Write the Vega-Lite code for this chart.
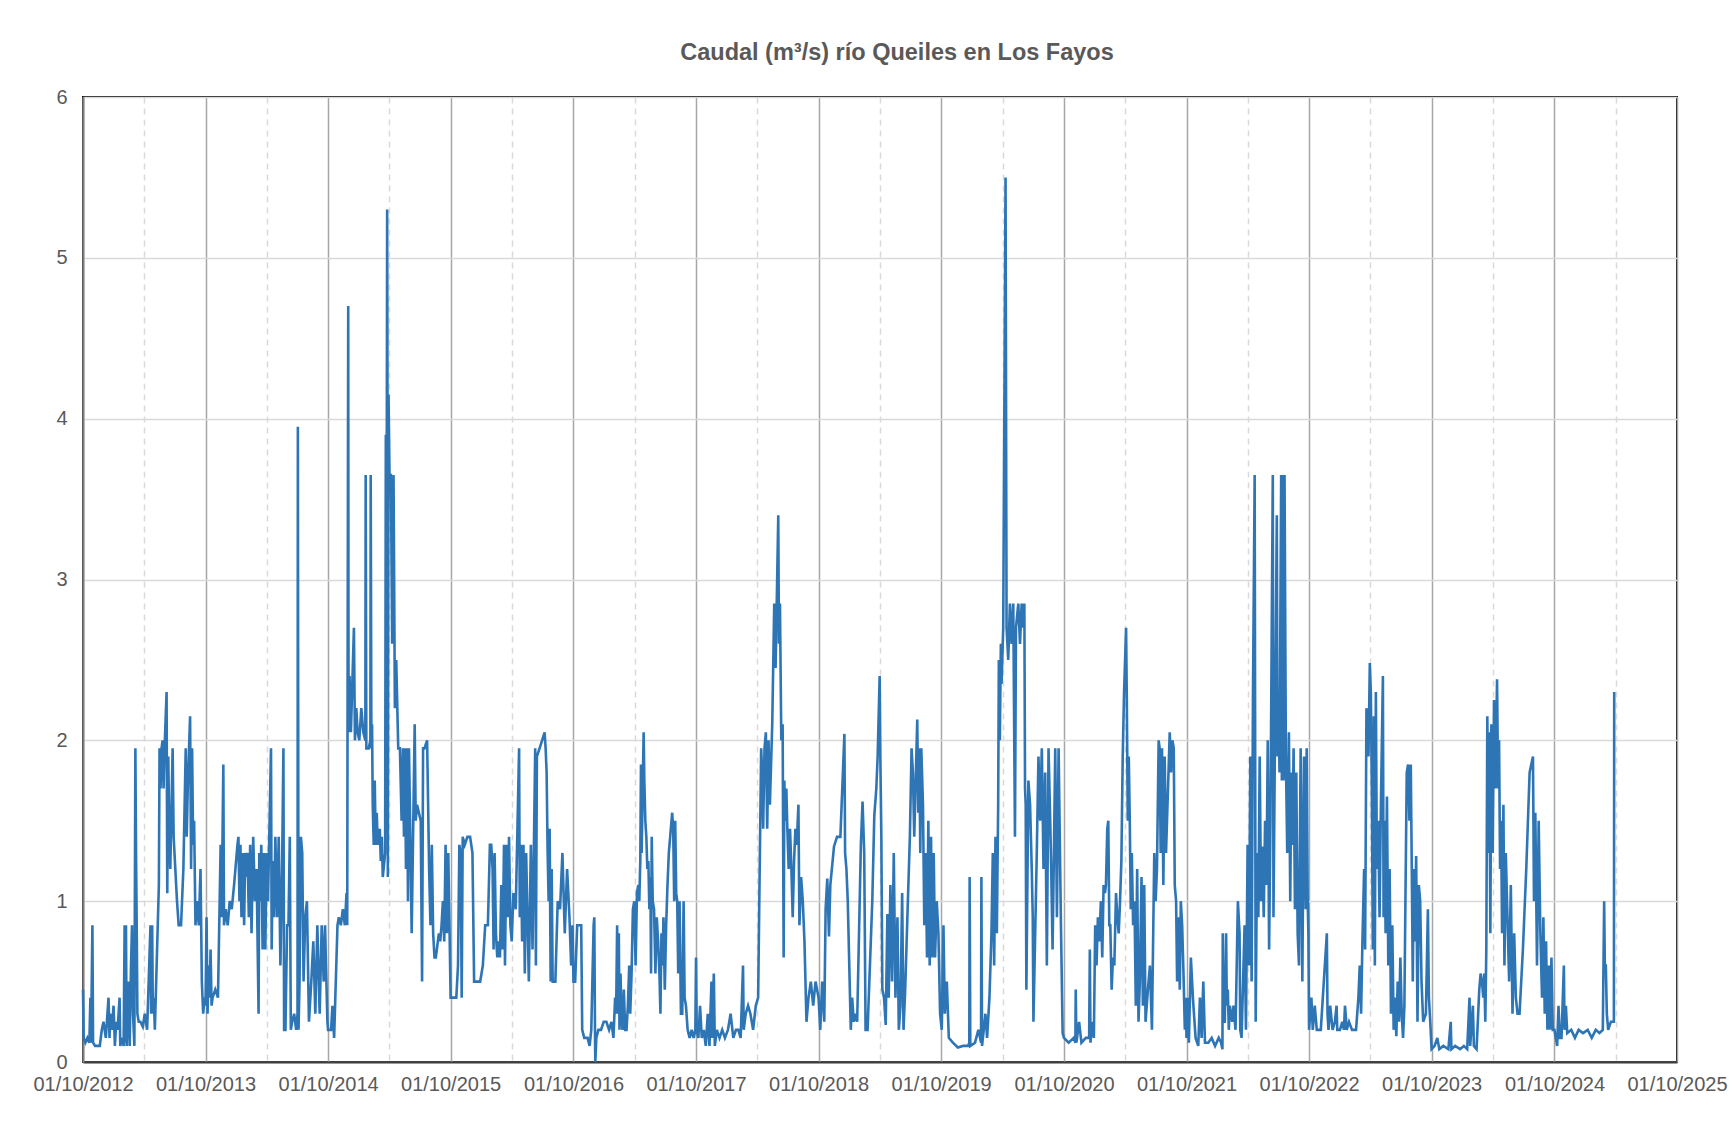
{
"$schema": "https://vega.github.io/schema/vega-lite/v6.json",
"width": 1594, "height": 965,
"autosize": {"type": "none"},
"padding": {"left": 83, "top": 97, "right": 56, "bottom": 63},
"background": "white",
"title": {"text": "Caudal (m³/s) río Queiles en Los Fayos", "font": "Liberation Sans", "fontSize": 23.5, "fontWeight": "bold", "color": "#595959", "anchor": "middle", "frame": "group", "offset": 23, "dx": 17},
"config": {"view": {"stroke": "#111111", "strokeWidth": 2}, "font": "Liberation Sans"},
"data": {"format": {"parse": {"d": "utc:'%Y-%m-%d'"}}, "values": [
{"d":"2012-10-01","v":0.45},{"d":"2012-10-03","v":0.15},{"d":"2012-10-08","v":0.12},{"d":"2012-10-14","v":0.15},{"d":"2012-10-20","v":0.12},{"d":"2012-10-23","v":0.4},{"d":"2012-10-25","v":0.12},{"d":"2012-10-29","v":0.85},{"d":"2012-10-31","v":0.12},{"d":"2012-11-06","v":0.1},{"d":"2012-11-14","v":0.1},{"d":"2012-11-20","v":0.1},{"d":"2012-11-26","v":0.2},{"d":"2012-12-01","v":0.25},{"d":"2012-12-08","v":0.15},{"d":"2012-12-16","v":0.4},{"d":"2012-12-19","v":0.15},{"d":"2012-12-21","v":0.3},{"d":"2012-12-26","v":0.2},{"d":"2012-12-31","v":0.35},
{"d":"2013-01-04","v":0.1},{"d":"2013-01-08","v":0.25},{"d":"2013-01-12","v":0.2},{"d":"2013-01-18","v":0.4},{"d":"2013-01-20","v":0.1},{"d":"2013-01-25","v":0.15},{"d":"2013-01-30","v":0.1},{"d":"2013-02-02","v":0.85},{"d":"2013-02-04","v":0.12},{"d":"2013-02-06","v":0.85},{"d":"2013-02-08","v":0.1},{"d":"2013-02-14","v":0.5},{"d":"2013-02-17","v":0.1},{"d":"2013-02-21","v":0.6},{"d":"2013-02-24","v":0.85},{"d":"2013-02-27","v":0.3},{"d":"2013-03-03","v":0.1},{"d":"2013-03-06","v":1.95},{"d":"2013-03-08","v":1.3},{"d":"2013-03-10","v":0.85},{"d":"2013-03-12","v":0.3},{"d":"2013-03-16","v":0.25},{"d":"2013-03-21","v":0.25},{"d":"2013-03-28","v":0.22},{"d":"2013-04-03","v":0.3},{"d":"2013-04-10","v":0.2},{"d":"2013-04-20","v":0.85},{"d":"2013-04-22","v":0.3},{"d":"2013-04-25","v":0.85},{"d":"2013-04-27","v":0.3},{"d":"2013-04-30","v":0.4},{"d":"2013-05-03","v":0.2},{"d":"2013-05-15","v":1.1},{"d":"2013-05-17","v":1.95},{"d":"2013-05-20","v":1.7},{"d":"2013-05-23","v":1.95},{"d":"2013-05-26","v":2.0},{"d":"2013-05-29","v":1.7},{"d":"2013-06-01","v":1.95},{"d":"2013-06-07","v":2.3},{"d":"2013-06-09","v":1.05},{"d":"2013-06-12","v":1.9},{"d":"2013-06-15","v":1.4},{"d":"2013-06-18","v":1.2},{"d":"2013-06-25","v":1.95},{"d":"2013-06-28","v":1.4},{"d":"2013-07-03","v":1.2},{"d":"2013-07-08","v":1.0},{"d":"2013-07-13","v":0.85},{"d":"2013-07-20","v":0.85},{"d":"2013-07-27","v":1.2},{"d":"2013-08-03","v":1.95},{"d":"2013-08-06","v":1.4},{"d":"2013-08-09","v":1.7},{"d":"2013-08-16","v":2.15},{"d":"2013-08-19","v":1.2},{"d":"2013-08-22","v":1.95},{"d":"2013-08-25","v":1.35},{"d":"2013-08-28","v":1.5},{"d":"2013-09-01","v":0.85},{"d":"2013-09-06","v":1.0},{"d":"2013-09-11","v":0.85},{"d":"2013-09-16","v":1.2},{"d":"2013-09-20","v":0.5},{"d":"2013-09-24","v":0.3},{"d":"2013-09-28","v":0.4},
{"d":"2013-10-01","v":0.35},{"d":"2013-10-04","v":0.9},{"d":"2013-10-07","v":0.3},{"d":"2013-10-10","v":0.6},{"d":"2013-10-13","v":0.4},{"d":"2013-10-16","v":0.7},{"d":"2013-10-19","v":0.35},{"d":"2013-10-22","v":0.4},{"d":"2013-10-30","v":0.45},{"d":"2013-11-07","v":0.4},{"d":"2013-11-15","v":1.35},{"d":"2013-11-18","v":0.9},{"d":"2013-11-23","v":1.85},{"d":"2013-11-25","v":0.85},{"d":"2013-11-30","v":0.95},{"d":"2013-12-06","v":0.85},{"d":"2013-12-12","v":1.0},{"d":"2013-12-18","v":0.95},{"d":"2013-12-25","v":1.1},
{"d":"2014-01-04","v":1.35},{"d":"2014-01-07","v":1.4},{"d":"2014-01-10","v":1.0},{"d":"2014-01-13","v":1.35},{"d":"2014-01-16","v":0.9},{"d":"2014-01-20","v":1.3},{"d":"2014-01-24","v":0.85},{"d":"2014-01-27","v":1.3},{"d":"2014-01-30","v":1.15},{"d":"2014-02-03","v":1.3},{"d":"2014-02-07","v":0.9},{"d":"2014-02-11","v":1.35},{"d":"2014-02-15","v":0.8},{"d":"2014-02-20","v":1.4},{"d":"2014-02-25","v":1.0},{"d":"2014-03-02","v":1.2},{"d":"2014-03-08","v":0.3},{"d":"2014-03-10","v":1.3},{"d":"2014-03-13","v":1.0},{"d":"2014-03-16","v":1.35},{"d":"2014-03-20","v":0.7},{"d":"2014-03-24","v":1.3},{"d":"2014-03-28","v":0.7},{"d":"2014-04-01","v":1.3},{"d":"2014-04-05","v":1.0},{"d":"2014-04-14","v":1.95},{"d":"2014-04-16","v":0.7},{"d":"2014-04-19","v":1.25},{"d":"2014-04-23","v":0.9},{"d":"2014-04-27","v":1.4},{"d":"2014-05-02","v":0.9},{"d":"2014-05-07","v":1.4},{"d":"2014-05-12","v":0.6},{"d":"2014-05-17","v":1.2},{"d":"2014-05-21","v":1.95},{"d":"2014-05-23","v":0.2},{"d":"2014-05-27","v":0.2},{"d":"2014-06-01","v":0.85},{"d":"2014-06-05","v":0.85},{"d":"2014-06-09","v":1.4},{"d":"2014-06-12","v":0.2},{"d":"2014-06-16","v":0.25},{"d":"2014-06-22","v":0.3},{"d":"2014-06-28","v":0.2},{"d":"2014-07-02","v":0.3},{"d":"2014-07-03","v":3.95},{"d":"2014-07-05","v":0.2},{"d":"2014-07-08","v":0.5},{"d":"2014-07-12","v":1.4},{"d":"2014-07-16","v":1.3},{"d":"2014-07-20","v":0.5},{"d":"2014-07-25","v":0.9},{"d":"2014-07-30","v":1.0},{"d":"2014-08-05","v":0.25},{"d":"2014-08-12","v":0.5},{"d":"2014-08-18","v":0.75},{"d":"2014-08-24","v":0.3},{"d":"2014-08-30","v":0.85},{"d":"2014-09-06","v":0.3},{"d":"2014-09-12","v":0.85},{"d":"2014-09-18","v":0.5},{"d":"2014-09-22","v":0.85},{"d":"2014-09-26","v":0.5},{"d":"2014-09-29","v":0.25},
{"d":"2014-10-01","v":0.2},{"d":"2014-10-10","v":0.2},{"d":"2014-10-14","v":0.35},{"d":"2014-10-19","v":0.15},{"d":"2014-10-29","v":0.85},{"d":"2014-11-02","v":0.9},{"d":"2014-11-08","v":0.85},{"d":"2014-11-14","v":0.95},{"d":"2014-11-20","v":0.85},{"d":"2014-11-25","v":1.05},{"d":"2014-11-27","v":0.85},{"d":"2014-11-30","v":4.7},{"d":"2014-12-01","v":2.05},{"d":"2014-12-04","v":2.4},{"d":"2014-12-08","v":2.05},{"d":"2014-12-17","v":2.7},{"d":"2014-12-20","v":2.0},{"d":"2014-12-24","v":2.2},{"d":"2014-12-28","v":2.05},
{"d":"2015-01-02","v":2.0},{"d":"2015-01-08","v":2.2},{"d":"2015-01-14","v":2.05},{"d":"2015-01-20","v":2.0},{"d":"2015-01-21","v":3.65},{"d":"2015-01-23","v":1.95},{"d":"2015-01-30","v":1.95},{"d":"2015-02-04","v":2.0},{"d":"2015-02-05","v":3.65},{"d":"2015-02-07","v":1.95},{"d":"2015-02-09","v":2.1},{"d":"2015-02-11","v":1.6},{"d":"2015-02-14","v":1.35},{"d":"2015-02-17","v":1.75},{"d":"2015-02-20","v":1.35},{"d":"2015-02-23","v":1.55},{"d":"2015-02-26","v":1.35},{"d":"2015-03-01","v":1.4},{"d":"2015-03-04","v":1.45},{"d":"2015-03-07","v":1.25},{"d":"2015-03-10","v":1.4},{"d":"2015-03-13","v":1.15},{"d":"2015-03-20","v":1.3},{"d":"2015-03-22","v":3.9},{"d":"2015-03-24","v":2.7},{"d":"2015-03-26","v":5.3},{"d":"2015-03-27","v":4.15},{"d":"2015-03-28","v":1.15},{"d":"2015-03-30","v":4.15},{"d":"2015-04-02","v":3.65},{"d":"2015-04-06","v":3.65},{"d":"2015-04-10","v":2.6},{"d":"2015-04-14","v":3.65},{"d":"2015-04-18","v":2.2},{"d":"2015-04-22","v":2.5},{"d":"2015-04-28","v":1.95},{"d":"2015-05-03","v":1.95},{"d":"2015-05-08","v":1.5},{"d":"2015-05-12","v":1.95},{"d":"2015-05-15","v":1.4},{"d":"2015-05-18","v":1.95},{"d":"2015-05-21","v":1.2},{"d":"2015-05-24","v":1.95},{"d":"2015-05-27","v":1.0},{"d":"2015-05-30","v":1.95},{"d":"2015-06-03","v":1.4},{"d":"2015-06-07","v":0.8},{"d":"2015-06-16","v":2.1},{"d":"2015-06-19","v":1.5},{"d":"2015-06-23","v":1.6},{"d":"2015-07-04","v":1.5},{"d":"2015-07-08","v":0.5},{"d":"2015-07-11","v":1.95},{"d":"2015-07-15","v":1.95},{"d":"2015-07-23","v":2.0},{"d":"2015-07-26","v":1.6},{"d":"2015-07-29","v":1.2},{"d":"2015-08-02","v":0.85},{"d":"2015-08-06","v":1.35},{"d":"2015-08-10","v":0.8},{"d":"2015-08-14","v":0.65},{"d":"2015-08-18","v":0.65},{"d":"2015-08-27","v":0.8},{"d":"2015-08-31","v":0.75},{"d":"2015-09-04","v":0.85},{"d":"2015-09-08","v":1.0},{"d":"2015-09-12","v":0.75},{"d":"2015-09-16","v":1.35},{"d":"2015-09-20","v":0.8},{"d":"2015-09-24","v":1.3},{"d":"2015-09-28","v":0.8},
{"d":"2015-10-01","v":0.4},{"d":"2015-10-10","v":0.4},{"d":"2015-10-18","v":0.4},{"d":"2015-10-23","v":0.6},{"d":"2015-10-27","v":1.35},{"d":"2015-10-31","v":1.3},{"d":"2015-11-03","v":0.4},{"d":"2015-11-06","v":1.4},{"d":"2015-11-12","v":1.35},{"d":"2015-11-20","v":1.4},{"d":"2015-11-28","v":1.4},{"d":"2015-12-05","v":1.3},{"d":"2015-12-10","v":0.5},{"d":"2015-12-18","v":0.5},{"d":"2015-12-28","v":0.5},
{"d":"2016-01-05","v":0.6},{"d":"2016-01-12","v":0.85},{"d":"2016-01-20","v":0.85},{"d":"2016-01-26","v":1.35},{"d":"2016-01-30","v":1.35},{"d":"2016-02-03","v":1.2},{"d":"2016-02-06","v":0.7},{"d":"2016-02-09","v":1.3},{"d":"2016-02-13","v":0.8},{"d":"2016-02-17","v":0.65},{"d":"2016-02-21","v":0.75},{"d":"2016-02-25","v":0.65},{"d":"2016-02-29","v":1.1},{"d":"2016-03-04","v":0.7},{"d":"2016-03-08","v":1.35},{"d":"2016-03-11","v":0.6},{"d":"2016-03-15","v":1.35},{"d":"2016-03-19","v":0.9},{"d":"2016-03-23","v":1.4},{"d":"2016-03-27","v":0.85},{"d":"2016-03-31","v":0.75},{"d":"2016-04-05","v":1.05},{"d":"2016-04-12","v":0.95},{"d":"2016-04-22","v":1.95},{"d":"2016-04-24","v":0.9},{"d":"2016-04-27","v":1.35},{"d":"2016-05-01","v":0.75},{"d":"2016-05-05","v":1.35},{"d":"2016-05-09","v":0.55},{"d":"2016-05-13","v":1.3},{"d":"2016-05-17","v":0.9},{"d":"2016-05-21","v":0.5},{"d":"2016-05-27","v":1.35},{"d":"2016-06-01","v":0.7},{"d":"2016-06-09","v":1.95},{"d":"2016-06-11","v":0.6},{"d":"2016-06-14","v":1.9},{"d":"2016-06-22","v":1.95},{"d":"2016-07-07","v":2.05},{"d":"2016-07-10","v":1.95},{"d":"2016-07-13","v":1.8},{"d":"2016-07-16","v":1.3},{"d":"2016-07-19","v":1.0},{"d":"2016-07-22","v":1.45},{"d":"2016-07-25","v":0.5},{"d":"2016-07-28","v":1.2},{"d":"2016-07-31","v":0.5},{"d":"2016-08-08","v":0.5},{"d":"2016-08-15","v":1.0},{"d":"2016-08-22","v":0.95},{"d":"2016-08-29","v":1.3},{"d":"2016-09-05","v":0.8},{"d":"2016-09-12","v":1.2},{"d":"2016-09-19","v":0.9},{"d":"2016-09-24","v":0.6},{"d":"2016-09-28","v":0.85},
{"d":"2016-10-01","v":0.5},{"d":"2016-10-06","v":0.5},{"d":"2016-10-12","v":0.85},{"d":"2016-10-18","v":0.85},{"d":"2016-10-24","v":0.85},{"d":"2016-10-27","v":0.2},{"d":"2016-11-02","v":0.15},{"d":"2016-11-12","v":0.15},{"d":"2016-11-18","v":0.1},{"d":"2016-11-23","v":0.2},{"d":"2016-11-30","v":0.85},{"d":"2016-12-02","v":0.9},{"d":"2016-12-04","v":0.2},{"d":"2016-12-05","v":0.0},{"d":"2016-12-08","v":0.15},{"d":"2016-12-14","v":0.2},{"d":"2016-12-22","v":0.2},{"d":"2016-12-30","v":0.25},
{"d":"2017-01-07","v":0.25},{"d":"2017-01-15","v":0.2},{"d":"2017-01-22","v":0.25},{"d":"2017-01-28","v":0.15},{"d":"2017-02-02","v":0.4},{"d":"2017-02-05","v":0.3},{"d":"2017-02-08","v":0.85},{"d":"2017-02-10","v":0.3},{"d":"2017-02-13","v":0.8},{"d":"2017-02-15","v":0.2},{"d":"2017-02-18","v":0.55},{"d":"2017-02-21","v":0.3},{"d":"2017-02-24","v":0.2},{"d":"2017-02-28","v":0.45},{"d":"2017-03-04","v":0.2},{"d":"2017-03-08","v":0.2},{"d":"2017-03-12","v":0.35},{"d":"2017-03-16","v":0.6},{"d":"2017-03-19","v":0.3},{"d":"2017-03-23","v":0.55},{"d":"2017-03-27","v":0.95},{"d":"2017-03-31","v":1.0},{"d":"2017-04-04","v":0.6},{"d":"2017-04-08","v":1.05},{"d":"2017-04-12","v":1.1},{"d":"2017-04-15","v":1.0},{"d":"2017-04-18","v":1.25},{"d":"2017-04-20","v":1.85},{"d":"2017-04-22","v":1.3},{"d":"2017-04-28","v":2.05},{"d":"2017-04-30","v":1.75},{"d":"2017-05-03","v":1.5},{"d":"2017-05-06","v":1.4},{"d":"2017-05-09","v":1.2},{"d":"2017-05-12","v":1.25},{"d":"2017-05-15","v":0.95},{"d":"2017-05-18","v":1.15},{"d":"2017-05-20","v":0.55},{"d":"2017-05-22","v":1.4},{"d":"2017-05-25","v":1.0},{"d":"2017-05-29","v":0.95},{"d":"2017-06-02","v":0.55},{"d":"2017-06-06","v":0.9},{"d":"2017-06-10","v":0.75},{"d":"2017-06-14","v":0.55},{"d":"2017-06-17","v":0.3},{"d":"2017-06-20","v":0.8},{"d":"2017-06-23","v":0.6},{"d":"2017-06-26","v":0.9},{"d":"2017-06-30","v":0.45},{"d":"2017-07-04","v":0.85},{"d":"2017-07-08","v":1.1},{"d":"2017-07-12","v":1.3},{"d":"2017-07-22","v":1.55},{"d":"2017-07-25","v":1.45},{"d":"2017-07-28","v":1.0},{"d":"2017-07-31","v":1.5},{"d":"2017-08-03","v":1.05},{"d":"2017-08-06","v":1.0},{"d":"2017-08-09","v":0.55},{"d":"2017-08-13","v":1.0},{"d":"2017-08-17","v":0.3},{"d":"2017-08-21","v":0.3},{"d":"2017-08-25","v":1.0},{"d":"2017-08-28","v":0.4},{"d":"2017-09-01","v":0.35},{"d":"2017-09-06","v":0.2},{"d":"2017-09-12","v":0.15},{"d":"2017-09-18","v":0.2},{"d":"2017-09-24","v":0.15},{"d":"2017-09-29","v":0.2},
{"d":"2017-10-01","v":0.65},{"d":"2017-10-03","v":0.2},{"d":"2017-10-08","v":0.15},{"d":"2017-10-13","v":0.35},{"d":"2017-10-18","v":0.15},{"d":"2017-10-24","v":0.2},{"d":"2017-10-30","v":0.1},{"d":"2017-11-05","v":0.3},{"d":"2017-11-10","v":0.1},{"d":"2017-11-16","v":0.5},{"d":"2017-11-18","v":0.15},{"d":"2017-11-23","v":0.55},{"d":"2017-11-26","v":0.1},{"d":"2017-12-02","v":0.2},{"d":"2017-12-10","v":0.15},{"d":"2017-12-18","v":0.2},{"d":"2017-12-26","v":0.15},
{"d":"2018-01-04","v":0.2},{"d":"2018-01-12","v":0.3},{"d":"2018-01-20","v":0.15},{"d":"2018-01-28","v":0.2},{"d":"2018-02-04","v":0.2},{"d":"2018-02-11","v":0.15},{"d":"2018-02-18","v":0.6},{"d":"2018-02-20","v":0.2},{"d":"2018-02-26","v":0.3},{"d":"2018-03-05","v":0.35},{"d":"2018-03-12","v":0.3},{"d":"2018-03-20","v":0.2},{"d":"2018-03-28","v":0.35},{"d":"2018-04-04","v":0.4},{"d":"2018-04-13","v":1.95},{"d":"2018-04-16","v":1.8},{"d":"2018-04-19","v":1.45},{"d":"2018-04-23","v":1.95},{"d":"2018-04-27","v":2.05},{"d":"2018-05-01","v":1.45},{"d":"2018-05-05","v":2.0},{"d":"2018-05-09","v":1.6},{"d":"2018-05-16","v":2.1},{"d":"2018-05-22","v":2.85},{"d":"2018-05-26","v":2.45},{"d":"2018-06-03","v":3.4},{"d":"2018-06-05","v":2.6},{"d":"2018-06-08","v":2.85},{"d":"2018-06-12","v":2.0},{"d":"2018-06-16","v":2.1},{"d":"2018-06-19","v":0.65},{"d":"2018-06-21","v":1.75},{"d":"2018-06-24","v":1.5},{"d":"2018-06-27","v":1.7},{"d":"2018-06-30","v":1.45},{"d":"2018-07-04","v":1.2},{"d":"2018-07-08","v":1.45},{"d":"2018-07-12","v":1.2},{"d":"2018-07-16","v":0.9},{"d":"2018-07-20","v":1.25},{"d":"2018-07-24","v":1.45},{"d":"2018-07-28","v":1.35},{"d":"2018-08-02","v":1.6},{"d":"2018-08-05","v":0.85},{"d":"2018-08-10","v":1.15},{"d":"2018-08-15","v":1.0},{"d":"2018-08-20","v":0.75},{"d":"2018-08-26","v":0.25},{"d":"2018-09-01","v":0.4},{"d":"2018-09-08","v":0.5},{"d":"2018-09-15","v":0.35},{"d":"2018-09-22","v":0.5},
{"d":"2018-10-01","v":0.4},{"d":"2018-10-06","v":0.2},{"d":"2018-10-12","v":0.5},{"d":"2018-10-18","v":0.25},{"d":"2018-10-22","v":0.95},{"d":"2018-10-27","v":1.14},{"d":"2018-11-01","v":0.78},{"d":"2018-11-05","v":1.1},{"d":"2018-11-16","v":1.34},{"d":"2018-11-25","v":1.4},{"d":"2018-12-05","v":1.4},{"d":"2018-12-17","v":2.04},{"d":"2018-12-19","v":1.3},{"d":"2018-12-23","v":1.2},{"d":"2018-12-27","v":1.0},
{"d":"2019-01-05","v":0.2},{"d":"2019-01-09","v":0.4},{"d":"2019-01-14","v":0.25},{"d":"2019-01-19","v":0.3},{"d":"2019-01-24","v":0.25},{"d":"2019-02-04","v":1.35},{"d":"2019-02-09","v":1.62},{"d":"2019-02-14","v":1.3},{"d":"2019-02-18","v":0.2},{"d":"2019-02-24","v":0.2},{"d":"2019-03-10","v":1.0},{"d":"2019-03-16","v":1.53},{"d":"2019-03-22","v":1.7},{"d":"2019-03-26","v":1.9},{"d":"2019-04-01","v":2.4},{"d":"2019-04-03","v":1.9},{"d":"2019-04-06","v":1.4},{"d":"2019-04-09","v":0.45},{"d":"2019-04-14","v":0.4},{"d":"2019-04-19","v":0.23},{"d":"2019-04-24","v":0.92},{"d":"2019-04-28","v":0.4},{"d":"2019-05-03","v":1.1},{"d":"2019-05-08","v":0.5},{"d":"2019-05-13","v":1.3},{"d":"2019-05-18","v":0.4},{"d":"2019-05-24","v":0.9},{"d":"2019-05-28","v":0.2},{"d":"2019-06-02","v":0.35},{"d":"2019-06-07","v":1.05},{"d":"2019-06-11","v":0.2},{"d":"2019-06-16","v":0.45},{"d":"2019-06-24","v":1.0},{"d":"2019-06-30","v":1.4},{"d":"2019-07-05","v":1.95},{"d":"2019-07-09","v":1.8},{"d":"2019-07-13","v":1.4},{"d":"2019-07-22","v":2.13},{"d":"2019-07-25","v":1.55},{"d":"2019-07-28","v":1.95},{"d":"2019-07-31","v":1.3},{"d":"2019-08-03","v":1.95},{"d":"2019-08-08","v":1.6},{"d":"2019-08-12","v":0.85},{"d":"2019-08-16","v":1.3},{"d":"2019-08-20","v":0.65},{"d":"2019-08-24","v":1.5},{"d":"2019-08-28","v":0.6},{"d":"2019-09-01","v":1.4},{"d":"2019-09-05","v":0.65},{"d":"2019-09-09","v":1.3},{"d":"2019-09-13","v":0.65},{"d":"2019-09-18","v":1.0},{"d":"2019-09-23","v":0.8},{"d":"2019-09-28","v":0.3},
{"d":"2019-10-03","v":0.2},{"d":"2019-10-08","v":0.85},{"d":"2019-10-12","v":0.3},{"d":"2019-10-18","v":0.5},{"d":"2019-10-24","v":0.15},{"d":"2019-11-05","v":0.12},{"d":"2019-11-20","v":0.09},{"d":"2019-12-05","v":0.1},{"d":"2019-12-20","v":0.1},{"d":"2019-12-24","v":0.12},{"d":"2019-12-25","v":1.15},{"d":"2019-12-27","v":0.1},
{"d":"2020-01-10","v":0.12},{"d":"2020-01-20","v":0.2},{"d":"2020-01-28","v":0.12},{"d":"2020-01-29","v":1.15},{"d":"2020-01-31","v":0.1},{"d":"2020-02-05","v":0.2},{"d":"2020-02-10","v":0.3},{"d":"2020-02-15","v":0.15},{"d":"2020-02-22","v":0.4},{"d":"2020-02-28","v":0.8},{"d":"2020-03-03","v":1.3},{"d":"2020-03-07","v":0.6},{"d":"2020-03-11","v":1.4},{"d":"2020-03-15","v":0.8},{"d":"2020-03-19","v":1.6},{"d":"2020-03-21","v":2.5},{"d":"2020-03-24","v":2.0},{"d":"2020-03-27","v":2.6},{"d":"2020-03-29","v":2.35},{"d":"2020-04-03","v":2.7},{"d":"2020-04-10","v":5.5},{"d":"2020-04-13","v":2.7},{"d":"2020-04-18","v":2.5},{"d":"2020-04-23","v":2.85},{"d":"2020-04-28","v":2.6},{"d":"2020-05-03","v":2.85},{"d":"2020-05-08","v":1.4},{"d":"2020-05-11","v":2.7},{"d":"2020-05-18","v":2.85},{"d":"2020-05-23","v":2.6},{"d":"2020-05-28","v":2.85},{"d":"2020-06-02","v":2.7},{"d":"2020-06-05","v":2.85},{"d":"2020-06-07","v":1.7},{"d":"2020-06-09","v":1.6},{"d":"2020-06-11","v":0.45},{"d":"2020-06-17","v":1.75},{"d":"2020-06-22","v":1.6},{"d":"2020-06-27","v":1.2},{"d":"2020-06-30","v":0.9},{"d":"2020-07-02","v":0.25},{"d":"2020-07-12","v":1.3},{"d":"2020-07-17","v":1.9},{"d":"2020-07-22","v":1.5},{"d":"2020-07-27","v":1.95},{"d":"2020-08-01","v":1.2},{"d":"2020-08-06","v":1.8},{"d":"2020-08-11","v":0.6},{"d":"2020-08-16","v":1.95},{"d":"2020-08-21","v":1.5},{"d":"2020-08-24","v":1.2},{"d":"2020-08-28","v":0.7},{"d":"2020-09-01","v":1.3},{"d":"2020-09-05","v":1.95},{"d":"2020-09-10","v":0.9},{"d":"2020-09-15","v":1.95},{"d":"2020-09-22","v":0.85},{"d":"2020-09-27","v":0.18},
{"d":"2020-10-01","v":0.15},{"d":"2020-10-15","v":0.12},{"d":"2020-10-30","v":0.15},{"d":"2020-11-04","v":0.12},{"d":"2020-11-05","v":0.45},{"d":"2020-11-07","v":0.12},{"d":"2020-11-15","v":0.25},{"d":"2020-11-22","v":0.12},{"d":"2020-12-05","v":0.15},{"d":"2020-12-15","v":0.15},{"d":"2020-12-17","v":0.7},{"d":"2020-12-19","v":0.12},{"d":"2020-12-24","v":0.25},{"d":"2020-12-29","v":0.15},
{"d":"2021-01-02","v":0.85},{"d":"2021-01-06","v":0.6},{"d":"2021-01-10","v":0.9},{"d":"2021-01-14","v":0.75},{"d":"2021-01-19","v":1.0},{"d":"2021-01-23","v":0.65},{"d":"2021-01-27","v":1.1},{"d":"2021-01-31","v":1.05},{"d":"2021-02-03","v":1.1},{"d":"2021-02-07","v":1.45},{"d":"2021-02-10","v":1.5},{"d":"2021-02-13","v":0.85},{"d":"2021-02-16","v":0.85},{"d":"2021-02-20","v":0.45},{"d":"2021-02-24","v":0.65},{"d":"2021-02-28","v":0.6},{"d":"2021-03-05","v":1.05},{"d":"2021-03-09","v":0.9},{"d":"2021-03-13","v":0.8},{"d":"2021-03-17","v":1.0},{"d":"2021-03-21","v":1.25},{"d":"2021-03-25","v":1.9},{"d":"2021-03-29","v":2.3},{"d":"2021-04-04","v":2.7},{"d":"2021-04-06","v":2.3},{"d":"2021-04-09","v":1.5},{"d":"2021-04-12","v":1.9},{"d":"2021-04-15","v":1.5},{"d":"2021-04-18","v":0.95},{"d":"2021-04-21","v":1.3},{"d":"2021-04-25","v":0.85},{"d":"2021-04-29","v":1.0},{"d":"2021-05-03","v":0.35},{"d":"2021-05-07","v":1.2},{"d":"2021-05-11","v":0.25},{"d":"2021-05-15","v":0.5},{"d":"2021-05-20","v":1.15},{"d":"2021-05-24","v":0.35},{"d":"2021-05-28","v":1.1},{"d":"2021-06-01","v":0.25},{"d":"2021-06-08","v":0.45},{"d":"2021-06-14","v":0.6},{"d":"2021-06-20","v":0.2},{"d":"2021-06-27","v":1.3},{"d":"2021-07-01","v":1.0},{"d":"2021-07-05","v":1.2},{"d":"2021-07-10","v":2.0},{"d":"2021-07-13","v":1.95},{"d":"2021-07-16","v":1.3},{"d":"2021-07-20","v":1.95},{"d":"2021-07-24","v":1.1},{"d":"2021-07-28","v":1.9},{"d":"2021-08-01","v":1.3},{"d":"2021-08-12","v":2.05},{"d":"2021-08-16","v":1.8},{"d":"2021-08-20","v":2.0},{"d":"2021-08-24","v":1.95},{"d":"2021-08-27","v":1.1},{"d":"2021-08-31","v":1.0},{"d":"2021-09-03","v":0.5},{"d":"2021-09-07","v":0.9},{"d":"2021-09-11","v":0.45},{"d":"2021-09-14","v":1.0},{"d":"2021-09-18","v":0.85},{"d":"2021-09-22","v":0.55},{"d":"2021-09-26","v":0.2},{"d":"2021-09-29","v":0.4},
{"d":"2021-10-01","v":0.15},{"d":"2021-10-04","v":0.4},{"d":"2021-10-08","v":0.12},{"d":"2021-10-14","v":0.65},{"d":"2021-10-20","v":0.4},{"d":"2021-10-28","v":0.15},{"d":"2021-11-05","v":0.1},{"d":"2021-11-10","v":0.4},{"d":"2021-11-15","v":0.15},{"d":"2021-11-20","v":0.5},{"d":"2021-11-25","v":0.12},{"d":"2021-12-05","v":0.12},{"d":"2021-12-15","v":0.15},{"d":"2021-12-25","v":0.1},
{"d":"2022-01-05","v":0.15},{"d":"2022-01-12","v":0.12},{"d":"2022-01-16","v":0.08},{"d":"2022-01-17","v":0.8},{"d":"2022-01-19","v":0.25},{"d":"2022-01-23","v":0.25},{"d":"2022-01-27","v":0.8},{"d":"2022-01-29","v":0.35},{"d":"2022-02-01","v":0.45},{"d":"2022-02-04","v":0.2},{"d":"2022-02-07","v":0.35},{"d":"2022-02-14","v":0.25},{"d":"2022-02-18","v":0.35},{"d":"2022-02-24","v":0.2},{"d":"2022-03-03","v":1.0},{"d":"2022-03-08","v":0.8},{"d":"2022-03-10","v":0.2},{"d":"2022-03-14","v":0.15},{"d":"2022-03-23","v":0.85},{"d":"2022-03-27","v":0.2},{"d":"2022-04-01","v":1.35},{"d":"2022-04-05","v":0.6},{"d":"2022-04-09","v":1.9},{"d":"2022-04-13","v":0.5},{"d":"2022-04-17","v":2.3},{"d":"2022-04-22","v":3.65},{"d":"2022-04-25","v":0.25},{"d":"2022-04-29","v":1.3},{"d":"2022-05-03","v":0.9},{"d":"2022-05-07","v":1.9},{"d":"2022-05-11","v":1.0},{"d":"2022-05-15","v":1.34},{"d":"2022-05-19","v":0.9},{"d":"2022-05-23","v":1.5},{"d":"2022-05-27","v":1.1},{"d":"2022-05-31","v":2.0},{"d":"2022-06-04","v":0.7},{"d":"2022-06-08","v":1.5},{"d":"2022-06-15","v":3.65},{"d":"2022-06-17","v":0.9},{"d":"2022-06-27","v":3.4},{"d":"2022-06-29","v":1.9},{"d":"2022-07-02","v":2.3},{"d":"2022-07-05","v":1.8},{"d":"2022-07-10","v":3.65},{"d":"2022-07-12","v":1.75},{"d":"2022-07-14","v":3.65},{"d":"2022-07-17","v":1.75},{"d":"2022-07-20","v":3.65},{"d":"2022-07-24","v":1.9},{"d":"2022-07-28","v":1.3},{"d":"2022-08-02","v":2.05},{"d":"2022-08-06","v":1.0},{"d":"2022-08-09","v":1.8},{"d":"2022-08-12","v":1.35},{"d":"2022-08-16","v":1.95},{"d":"2022-08-20","v":0.95},{"d":"2022-08-24","v":1.8},{"d":"2022-08-28","v":0.8},{"d":"2022-09-01","v":0.6},{"d":"2022-09-06","v":1.95},{"d":"2022-09-11","v":0.5},{"d":"2022-09-16","v":1.9},{"d":"2022-09-21","v":0.95},{"d":"2022-09-24","v":1.95},{"d":"2022-09-27","v":1.0},{"d":"2022-09-29","v":0.8},
{"d":"2022-10-01","v":0.2},{"d":"2022-10-08","v":0.4},{"d":"2022-10-12","v":0.2},{"d":"2022-10-18","v":0.35},{"d":"2022-10-24","v":0.2},{"d":"2022-11-05","v":0.2},{"d":"2022-11-23","v":0.8},{"d":"2022-11-25","v":0.3},{"d":"2022-11-28","v":0.2},{"d":"2022-12-03","v":0.35},{"d":"2022-12-10","v":0.2},{"d":"2022-12-17","v":0.25},{"d":"2022-12-22","v":0.35},{"d":"2022-12-24","v":0.2},
{"d":"2023-01-01","v":0.2},{"d":"2023-01-08","v":0.25},{"d":"2023-01-13","v":0.2},{"d":"2023-01-16","v":0.35},{"d":"2023-01-18","v":0.3},{"d":"2023-01-21","v":0.2},{"d":"2023-01-28","v":0.25},{"d":"2023-02-06","v":0.2},{"d":"2023-02-18","v":0.2},{"d":"2023-02-25","v":0.4},{"d":"2023-03-01","v":0.6},{"d":"2023-03-05","v":0.3},{"d":"2023-03-09","v":0.75},{"d":"2023-03-14","v":1.2},{"d":"2023-03-17","v":0.7},{"d":"2023-03-21","v":2.2},{"d":"2023-03-27","v":1.9},{"d":"2023-03-31","v":2.48},{"d":"2023-04-03","v":2.3},{"d":"2023-04-06","v":1.7},{"d":"2023-04-09","v":0.7},{"d":"2023-04-12","v":2.15},{"d":"2023-04-15","v":0.6},{"d":"2023-04-18","v":2.3},{"d":"2023-04-21","v":1.2},{"d":"2023-04-25","v":1.5},{"d":"2023-04-29","v":0.9},{"d":"2023-05-03","v":1.6},{"d":"2023-05-09","v":2.4},{"d":"2023-05-11","v":0.9},{"d":"2023-05-14","v":1.5},{"d":"2023-05-17","v":0.8},{"d":"2023-05-21","v":1.65},{"d":"2023-05-25","v":0.6},{"d":"2023-05-29","v":1.2},{"d":"2023-06-02","v":0.3},{"d":"2023-06-06","v":0.85},{"d":"2023-06-10","v":0.2},{"d":"2023-06-14","v":0.4},{"d":"2023-06-18","v":0.16},{"d":"2023-06-22","v":0.5},{"d":"2023-06-26","v":0.25},{"d":"2023-06-30","v":0.65},{"d":"2023-07-04","v":0.3},{"d":"2023-07-08","v":0.15},{"d":"2023-07-12","v":0.35},{"d":"2023-07-15","v":0.99},{"d":"2023-07-19","v":1.8},{"d":"2023-07-23","v":1.85},{"d":"2023-07-27","v":1.5},{"d":"2023-07-31","v":1.85},{"d":"2023-08-03","v":1.2},{"d":"2023-08-06","v":0.5},{"d":"2023-08-09","v":1.2},{"d":"2023-08-12","v":0.75},{"d":"2023-08-16","v":1.28},{"d":"2023-08-20","v":0.25},{"d":"2023-08-24","v":1.1},{"d":"2023-08-28","v":1.0},{"d":"2023-09-01","v":0.5},{"d":"2023-09-06","v":0.25},{"d":"2023-09-14","v":0.3},{"d":"2023-09-20","v":0.95},{"d":"2023-09-23","v":0.4},{"d":"2023-09-27","v":0.25},
{"d":"2023-10-01","v":0.08},{"d":"2023-10-10","v":0.1},{"d":"2023-10-18","v":0.15},{"d":"2023-10-24","v":0.08},{"d":"2023-11-05","v":0.1},{"d":"2023-11-20","v":0.08},{"d":"2023-11-27","v":0.25},{"d":"2023-11-29","v":0.08},{"d":"2023-12-10","v":0.1},{"d":"2023-12-25","v":0.08},
{"d":"2024-01-05","v":0.1},{"d":"2024-01-15","v":0.08},{"d":"2024-01-22","v":0.4},{"d":"2024-01-24","v":0.1},{"d":"2024-02-01","v":0.35},{"d":"2024-02-04","v":0.1},{"d":"2024-02-12","v":0.08},{"d":"2024-02-20","v":0.45},{"d":"2024-02-24","v":0.55},{"d":"2024-02-28","v":0.5},{"d":"2024-03-03","v":0.4},{"d":"2024-03-06","v":0.55},{"d":"2024-03-09","v":0.25},{"d":"2024-03-12","v":0.7},{"d":"2024-03-15","v":2.15},{"d":"2024-03-18","v":1.3},{"d":"2024-03-21","v":2.05},{"d":"2024-03-24","v":0.8},{"d":"2024-03-27","v":2.1},{"d":"2024-03-31","v":1.3},{"d":"2024-04-04","v":2.25},{"d":"2024-04-08","v":1.7},{"d":"2024-04-13","v":2.38},{"d":"2024-04-16","v":1.7},{"d":"2024-04-19","v":2.0},{"d":"2024-04-22","v":1.2},{"d":"2024-04-25","v":1.5},{"d":"2024-04-28","v":0.8},{"d":"2024-05-02","v":1.6},{"d":"2024-05-05","v":0.6},{"d":"2024-05-09","v":1.3},{"d":"2024-05-14","v":0.9},{"d":"2024-05-19","v":0.5},{"d":"2024-05-24","v":1.1},{"d":"2024-05-29","v":0.3},{"d":"2024-06-03","v":0.8},{"d":"2024-06-08","v":0.4},{"d":"2024-06-13","v":0.3},{"d":"2024-06-19","v":0.3},{"d":"2024-06-29","v":0.7},{"d":"2024-07-09","v":1.2},{"d":"2024-07-19","v":1.8},{"d":"2024-07-29","v":1.9},{"d":"2024-08-01","v":1.0},{"d":"2024-08-05","v":1.55},{"d":"2024-08-10","v":0.6},{"d":"2024-08-15","v":1.5},{"d":"2024-08-20","v":0.8},{"d":"2024-08-25","v":0.4},{"d":"2024-08-29","v":0.9},{"d":"2024-09-02","v":0.3},{"d":"2024-09-06","v":0.75},{"d":"2024-09-10","v":0.2},{"d":"2024-09-14","v":0.6},{"d":"2024-09-18","v":0.2},{"d":"2024-09-22","v":0.65},{"d":"2024-09-26","v":0.2},
{"d":"2024-10-01","v":0.2},{"d":"2024-10-05","v":0.15},{"d":"2024-10-09","v":0.1},{"d":"2024-10-13","v":0.35},{"d":"2024-10-17","v":0.15},{"d":"2024-10-22","v":0.15},{"d":"2024-10-29","v":0.6},{"d":"2024-10-31","v":0.2},{"d":"2024-11-04","v":0.35},{"d":"2024-11-08","v":0.18},{"d":"2024-11-20","v":0.2},{"d":"2024-12-01","v":0.15},{"d":"2024-12-12","v":0.2},{"d":"2024-12-25","v":0.18},
{"d":"2025-01-08","v":0.2},{"d":"2025-01-20","v":0.15},{"d":"2025-02-01","v":0.2},{"d":"2025-02-12","v":0.18},{"d":"2025-02-22","v":0.2},{"d":"2025-02-26","v":1.0},{"d":"2025-02-28","v":0.6},{"d":"2025-03-03","v":0.6},{"d":"2025-03-06","v":0.3},{"d":"2025-03-10","v":0.2},{"d":"2025-03-18","v":0.25},{"d":"2025-03-27","v":0.25},{"d":"2025-03-28","v":2.3}
]},
"mark": {"type": "line", "color": "#2E75B6", "strokeWidth": 2.6, "interpolate": "linear", "strokeJoin": "miter"},
"encoding": {
 "x": {"field": "d", "type": "temporal",
  "scale": {"type": "utc", "domain": [{"year": 2012, "month": 10, "date": 1, "utc": true}, {"year": 2025, "month": 10, "date": 1, "utc": true}]},
  "axis": {
   "title": null,
   "values": [
    {"year": 2012, "month": 10, "date": 1, "utc": true},{"year": 2013, "month": 4, "date": 1, "utc": true},
    {"year": 2013, "month": 10, "date": 1, "utc": true},{"year": 2014, "month": 4, "date": 1, "utc": true},
    {"year": 2014, "month": 10, "date": 1, "utc": true},{"year": 2015, "month": 4, "date": 1, "utc": true},
    {"year": 2015, "month": 10, "date": 1, "utc": true},{"year": 2016, "month": 4, "date": 1, "utc": true},
    {"year": 2016, "month": 10, "date": 1, "utc": true},{"year": 2017, "month": 4, "date": 1, "utc": true},
    {"year": 2017, "month": 10, "date": 1, "utc": true},{"year": 2018, "month": 4, "date": 1, "utc": true},
    {"year": 2018, "month": 10, "date": 1, "utc": true},{"year": 2019, "month": 4, "date": 1, "utc": true},
    {"year": 2019, "month": 10, "date": 1, "utc": true},{"year": 2020, "month": 4, "date": 1, "utc": true},
    {"year": 2020, "month": 10, "date": 1, "utc": true},{"year": 2021, "month": 4, "date": 1, "utc": true},
    {"year": 2021, "month": 10, "date": 1, "utc": true},{"year": 2022, "month": 4, "date": 1, "utc": true},
    {"year": 2022, "month": 10, "date": 1, "utc": true},{"year": 2023, "month": 4, "date": 1, "utc": true},
    {"year": 2023, "month": 10, "date": 1, "utc": true},{"year": 2024, "month": 4, "date": 1, "utc": true},
    {"year": 2024, "month": 10, "date": 1, "utc": true},{"year": 2025, "month": 4, "date": 1, "utc": true},
    {"year": 2025, "month": 10, "date": 1, "utc": true}
   ],
   "labelExpr": "utcmonth(datum.value) == 9 ? utcFormat(datum.value, '%d/%m/%Y') : ''",
   "labelFont": "Liberation Sans", "labelFontSize": 20, "labelColor": "#595959",
   "labelPadding": 12, "labelOverlap": false, "labelFlush": false, "labelBound": false,
   "ticks": false, "tickSize": 0,
   "domainColor": "#404040", "domainWidth": 2,
   "grid": true, "gridWidth": 1.5,
   "gridColor": {"condition": {"test": "utcmonth(datum.value) == 3", "value": "#D9D9D9"}, "value": "#A6A6A6"},
   "gridDash": {"condition": {"test": "utcmonth(datum.value) == 3", "value": [6, 5]}, "value": []}
  }},
 "y": {"field": "v", "type": "quantitative",
  "scale": {"domain": [0, 6], "nice": false},
  "axis": {
   "title": null, "values": [0, 1, 2, 3, 4, 5, 6],
   "labelFont": "Liberation Sans", "labelFontSize": 20, "labelColor": "#595959", "labelPadding": 16,
   "ticks": false, "tickSize": 0,
   "domainColor": "#808080", "domainWidth": 2,
   "grid": true, "gridColor": "#D9D9D9", "gridWidth": 1.5
  }}
}
}
